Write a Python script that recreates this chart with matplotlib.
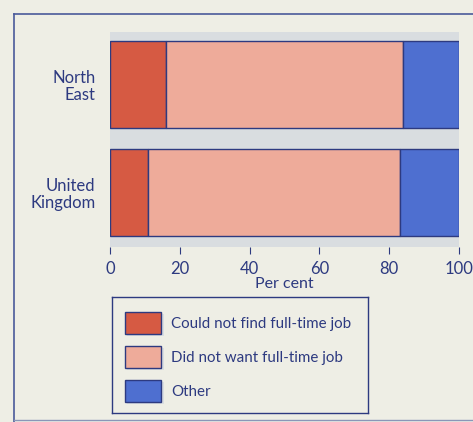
import matplotlib.pyplot as plt
from matplotlib.patches import Rectangle
from matplotlib.lines import Line2D

# data
regions = ['North\nEast', 'United\nKingdom']
could_not = [16, 11]
did_not_want = [68, 72]
other = [16, 17]
series_labels = ['Could not find full-time job', 'Did not want full-time job', 'Other']
series_colors = ['#d65a43', '#eeab9a', '#4e6fd0']
xticks = [0, 20, 40, 60, 80, 100]

navy = '#2d3a80'
bg = '#eeeee5'
shade = '#d9dde0'
plt.rcParams['font.family'] = ['Lato', 'DejaVu Sans']

W, H = 473, 422
fig = plt.figure(figsize=(W / 100, H / 100), dpi=100)
fig.patch.set_facecolor(bg)

def fx(px):
    return px / W

def fy(py):
    return 1 - py / H

# outer frame
fig.add_artist(Line2D([fx(14), fx(473)], [fy(14), fy(14)], color='#4a5a9a', lw=1.2))
fig.add_artist(Line2D([fx(14), fx(14)], [fy(14), fy(422)], color='#4a5a9a', lw=1.2))
fig.add_artist(Line2D([fx(14), fx(473)], [fy(420), fy(420)], color='#8a96b8', lw=1.0))

# main axes: x 110..459, y 32..247
ax = fig.add_axes([fx(110), fy(247), fx(459) - fx(110), fy(32) - fy(247)])
ax.set_facecolor(shade)
ax.set_xlim(0, 100)
ax.set_ylim(-0.505, 1.486)
ypos = [1, 0]
h = 0.81
left = [0, 0]
for vals, col in zip([could_not, did_not_want, other], series_colors):
    ax.barh(ypos, vals, left=left, height=h, color=col, edgecolor=navy, linewidth=1.0)
    left = [l + v for l, v in zip(left, vals)]
for s in ax.spines.values():
    s.set_visible(False)
ax.set_yticks(ypos)
ax.set_yticklabels(regions, fontsize=12, color=navy, ha='right', linespacing=1.1)
ax.tick_params(axis='y', length=0, pad=10.5)
ax.set_xticks(xticks)
ax.set_xticklabels([str(t) for t in xticks], fontsize=12, color=navy)
ax.tick_params(axis='x', length=5, width=0.8, color=navy, pad=5, direction='out')
ax.set_xlabel('Per cent', fontsize=11.5, color=navy, labelpad=0)

# legend box: x 112..368, y 297..413
lax = fig.add_axes([fx(112), fy(413), fx(368) - fx(112), fy(297) - fy(413)])
lax.set_xlim(112, 368)
lax.set_ylim(413, 297)
lax.set_facecolor(bg)
for s in lax.spines.values():
    s.set_color(navy)
    s.set_linewidth(1.0)
lax.set_xticks([])
lax.set_yticks([])
for i, (lab, col) in enumerate(zip(series_labels, series_colors)):
    yc = 324 + i * 34
    lax.add_patch(Rectangle((127, yc - 10), 37, 22, facecolor=shade, edgecolor='none'))
    lax.add_patch(Rectangle((125, yc - 12), 36, 22, facecolor=col, edgecolor=navy, lw=1.0))
    lax.text(171, yc, lab, fontsize=10.9, color=navy, va='center', ha='left')

fig.savefig('out.png', dpi=100, facecolor=bg)
